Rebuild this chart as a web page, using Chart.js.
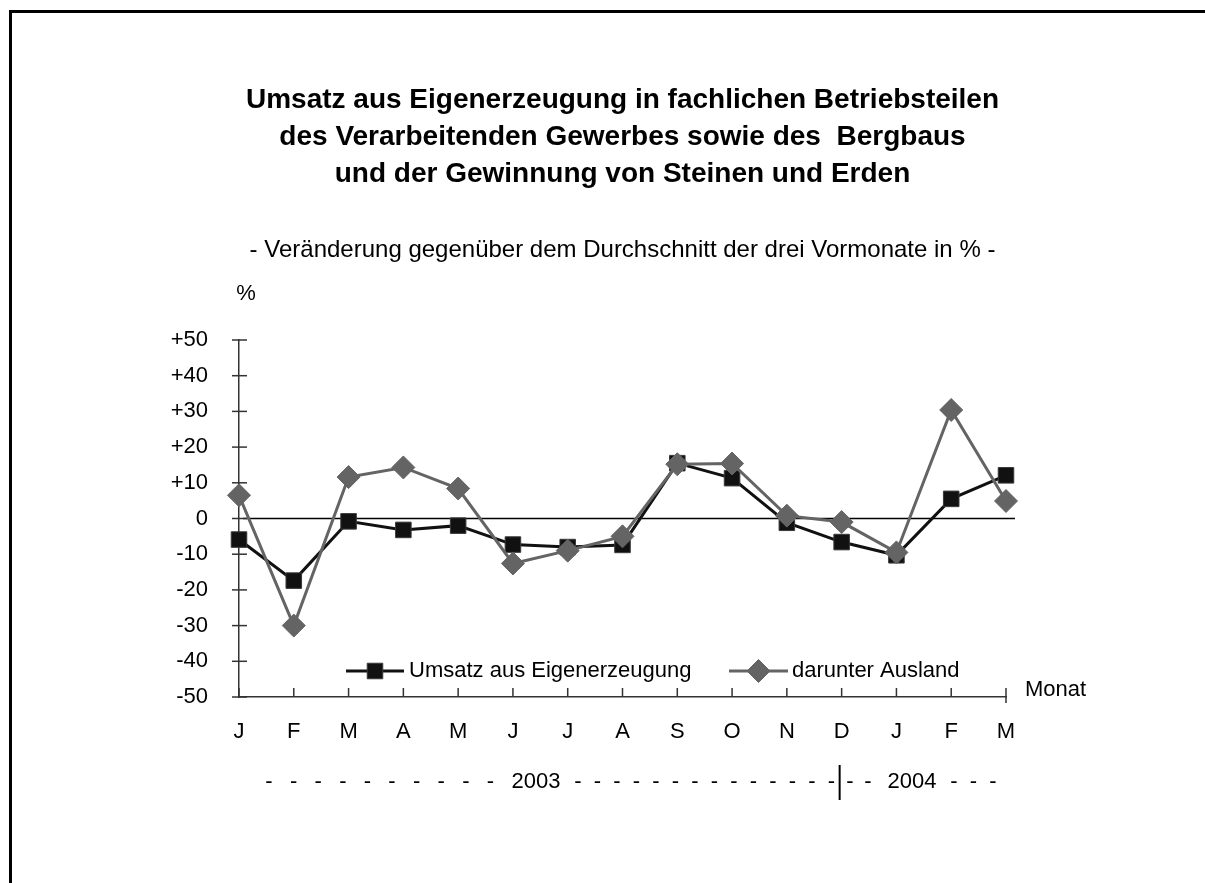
<!DOCTYPE html>
<html>
<head>
<meta charset="utf-8">
<script src="https://cdn.jsdelivr.net/npm/chart.js@4.4.1/dist/chart.umd.min.js"></script>
<style>
  html, body { margin: 0; padding: 0; background: #fff; overflow: hidden; }
  #wrap { position: relative; width: 1205px; height: 883px; }
  #frame { position: absolute; left: 9px; top: 10px; width: 1300px; height: 1000px;
           border-top: 3px solid #000; border-left: 3px solid #000; }
  canvas { position: absolute; left: 0; top: 0; }
</style>
</head>
<body>
<div id="wrap">
  <div id="frame"></div>
  <canvas id="chart"></canvas>
</div>
<script>
// Monate Jan 2003 - Mär 2004
const months = ['J', 'F', 'M', 'A', 'M', 'J', 'J', 'A', 'S', 'O', 'N', 'D', 'J', 'F', 'M'];
const umsatz = [-5.9, -17.4, -0.8, -3.2, -2.0, -7.3, -8.0, -7.4, 15.5, 11.3, -1.2, -6.6, -10.3, 5.5, 12.1];
const ausland = [6.5, -30.0, 11.6, 14.3, 8.4, -12.6, -9.0, -5.0, 15.2, 15.4, 0.8, -1.0, -9.5, 30.4, 4.9];
const seriesNames = ['Umsatz aus Eigenerzeugung', 'darunter Ausland'];
const titleLines = [
    'Umsatz aus Eigenerzeugung in fachlichen Betriebsteilen',
    'des Verarbeitenden Gewerbes sowie des  Bergbaus',
    'und der Gewinnung von Steinen und Erden'
];
const subtitleText = '- Veränderung gegenüber dem Durchschnitt der drei Vormonate in % -';
const yearLabels = ['2003', '2004'];

const FONT = "'Liberation Sans', Arial, Helvetica, sans-serif";
const black = '#111111';
const gray = '#646464';
const axisColor = '#333333';

// extra drawings: zero line, crossing ticks, legend, labels
const extras = {
    id: 'extras',
    beforeDatasetsDraw(chart) {
        const { ctx, chartArea, scales: { y } } = chart;
        const y0 = y.getPixelForValue(0);
        ctx.save();
        ctx.strokeStyle = '#000';
        ctx.lineWidth = 1.5;
        ctx.beginPath();
        ctx.moveTo(chartArea.left + 4, y0);
        ctx.lineTo(chartArea.right + 9, y0);
        ctx.stroke();
        ctx.restore();
    },
    afterDraw(chart) {
        const { ctx, chartArea, scales: { x, y } } = chart;
        ctx.save();
        ctx.strokeStyle = axisColor;
        ctx.lineWidth = 1.5;
        // y ticks crossing the axis
        y.ticks.forEach((t, i) => {
            const py = y.getPixelForTick(i);
            ctx.beginPath();
            ctx.moveTo(chartArea.left - 7, py);
            ctx.lineTo(chartArea.left + 8, py);
            ctx.stroke();
        });
        // x ticks pointing inward
        x.ticks.forEach((t, i) => {
            const px = x.getPixelForTick(i);
            ctx.beginPath();
            ctx.moveTo(px, chartArea.bottom - 9);
            ctx.lineTo(px, chartArea.bottom + (i === x.ticks.length - 1 ? 6 : 0));
            ctx.stroke();
        });

        ctx.fillStyle = '#000';
        ctx.font = '22px ' + FONT;
        ctx.textBaseline = 'middle';
        ctx.textAlign = 'center';
        ctx.fillText('%', 246, 294);
        ctx.textAlign = 'left';
        ctx.fillText('Monat', 1025, 690);

        // legend
        const legendY = 671;
        const items = [
            { x0: 346, x1: 404, ds: chart.data.datasets[0], tx: 409 },
            { x0: 729, x1: 788, ds: chart.data.datasets[1], tx: 792 }
        ];
        items.forEach(it => {
            ctx.strokeStyle = it.ds.borderColor;
            ctx.lineWidth = it.ds.borderWidth;
            ctx.beginPath();
            ctx.moveTo(it.x0, legendY);
            ctx.lineTo(it.x1, legendY);
            ctx.stroke();
            ctx.fillStyle = it.ds.pointBackgroundColor;
            ctx.strokeStyle = it.ds.pointBorderColor;
            ctx.lineWidth = 1;
            Chart.helpers.drawPoint(ctx, {
                pointStyle: it.ds.pointStyle,
                radius: it.ds.pointRadius,
                borderWidth: 1,
                rotation: 0
            }, (it.x0 + it.x1) / 2, legendY);
            ctx.fillStyle = '#000';
            ctx.fillText(it.ds.label, it.tx, legendY);
        });

        // year row
        const rowY = 782;
        ctx.textAlign = 'center';
        const dashGroups = [
            { start: 269, step: 24.6, count: 10 },
            { start: 578, step: 19.5, count: 14 },
            { start: 850, step: 18, count: 2 },
            { start: 954, step: 19.5, count: 3 }
        ];
        dashGroups.forEach(g => {
            for (let i = 0; i < g.count; i++) {
                ctx.fillText('-', g.start + i * g.step, rowY);
            }
        });
        ctx.fillText(yearLabels[0], 536, rowY);
        ctx.fillText(yearLabels[1], 912, rowY);
        const bx = x.getPixelForTick(11) - 2;
        ctx.strokeStyle = '#000';
        ctx.lineWidth = 2;
        ctx.beginPath();
        ctx.moveTo(bx, rowY - 17);
        ctx.lineTo(bx, rowY + 18);
        ctx.stroke();
        ctx.restore();
    }
};

new Chart(document.getElementById('chart'), {
    type: 'line',
    data: {
        labels: months,
        datasets: [{
            label: seriesNames[0],
            data: umsatz,
            borderColor: black,
            borderWidth: 3,
            pointStyle: 'rect',
            pointRadius: 11,
            pointBackgroundColor: black,
            pointBorderColor: '#3a3a3a',
            pointBorderWidth: 1,
            tension: 0,
            clip: false,
            order: 1
        }, {
            label: seriesNames[1],
            data: ausland,
            borderColor: gray,
            borderWidth: 3,
            pointStyle: 'rectRot',
            pointRadius: 11.5,
            pointBackgroundColor: gray,
            pointBorderColor: gray,
            pointBorderWidth: 1,
            tension: 0,
            clip: false,
            order: 0
        }]
    },
    options: {
        responsive: true,
        maintainAspectRatio: false,
        animation: false,
        layout: { padding: { left: 0, top: 0, right: 199, bottom: 0 } },
        plugins: {
            legend: { display: false },
            tooltip: { enabled: false },
            title: {
                display: true,
                fullSize: false,
                text: titleLines,
                color: '#000',
                font: { family: FONT, size: 28, weight: 'bold', lineHeight: '37px' },
                padding: { top: 81.5, bottom: 0 }
            },
            subtitle: {
                display: true,
                fullSize: false,
                text: subtitleText,
                color: '#000',
                font: { family: FONT, size: 24, lineHeight: '28px' },
                padding: { top: 43.5, bottom: 76 }
            }
        },
        scales: {
            x: {
                offset: false,
                grid: { display: true, drawOnChartArea: false, drawTicks: false },
                border: { color: axisColor, width: 1.5 },
                ticks: {
                    color: '#000',
                    font: { family: FONT, size: 22 },
                    padding: 22,
                    autoSkip: false,
                    maxRotation: 0
                },
                afterFit(scale) { scale.height = 186; }
            },
            y: {
                min: -50,
                max: 50,
                grid: { display: true, drawOnChartArea: false, drawTicks: false },
                border: { color: axisColor, width: 1.5 },
                ticks: {
                    stepSize: 10,
                    color: '#000',
                    font: { family: FONT, size: 22 },
                    padding: 31,
                    callback: v => v > 0 ? '+' + v : (v < 0 ? '-' + Math.abs(v) : '0')
                },
                afterFit(scale) { scale.width = 239; }
            }
        }
    },
    plugins: [extras]
});
</script>
</body>
</html>
